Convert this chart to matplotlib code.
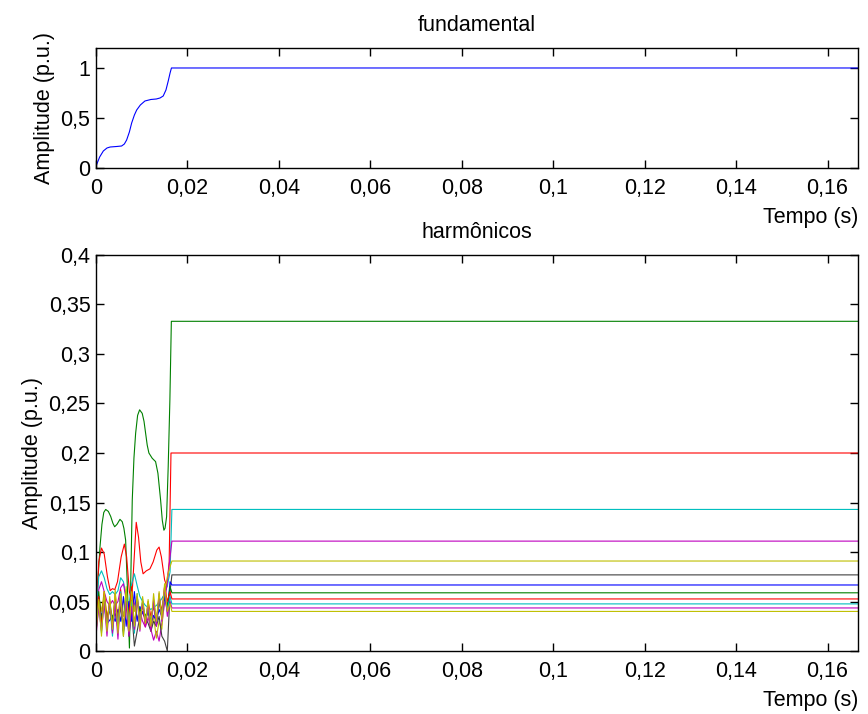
import numpy as np
import matplotlib.pyplot as plt
from matplotlib.ticker import FuncFormatter

# sliding window: end of first cycle and end of record (s)
t_cycle = 0.0166
t_end = 1.0 / 6

# fundamental, transient part
t_fund = [0.0, 0.0001, 0.0008, 0.0016, 0.0024, 0.0031, 0.0045, 0.0056, 0.0062, 0.0067,
          0.0073, 0.0078, 0.0084, 0.0089, 0.0097, 0.0107, 0.0120, 0.0132, 0.0140,
          0.0147, 0.0153, 0.0158, 0.0162, 0.0165]
v_fund = [0.0, 0.03, 0.11, 0.17, 0.20, 0.21, 0.215, 0.22, 0.24, 0.28, 0.36, 0.45, 0.53,
          0.58, 0.63, 0.67, 0.685, 0.69, 0.70, 0.72, 0.78, 0.87, 0.95, 1.0]

# 3rd harmonic (green)
t_h3 = [0.0, 0.0004, 0.00087, 0.0013, 0.0017, 0.00212, 0.0027, 0.00321, 0.0037, 0.00408,
        0.0046, 0.00524, 0.00574, 0.0061, 0.00648, 0.0069, 0.00731, 0.0076, 0.00793,
        0.0083, 0.00867, 0.0091, 0.00954, 0.01011, 0.0105, 0.01085, 0.0112, 0.01157,
        0.01229, 0.01303, 0.01354, 0.01413, 0.0145, 0.01485, 0.0151, 0.01544, 0.01579,
        0.01616, 0.01648]
v_h3 = [0.03, 0.07, 0.105, 0.128, 0.140, 0.143, 0.141, 0.136, 0.129, 0.1255, 0.128, 0.133,
        0.1306, 0.124, 0.112, 0.06, 0.003, 0.07, 0.1525, 0.195, 0.22, 0.238, 0.2436,
        0.240, 0.232, 0.22, 0.208, 0.20, 0.1947, 0.1913, 0.1796, 0.1525, 0.132, 0.122,
        0.124, 0.1356, 0.186, 0.2537, 0.333]

# 5th harmonic (red)
t_h5 = [0.0, 0.0006, 0.0012, 0.0018, 0.0025, 0.0031, 0.0036, 0.0041, 0.0047, 0.0055,
        0.0062, 0.0067, 0.0073, 0.0078, 0.0083, 0.0088, 0.0093, 0.0098, 0.0103, 0.0110,
        0.0118, 0.0125, 0.0133, 0.0138, 0.0143, 0.0150, 0.0155, 0.0160, 0.0164]
v_h5 = [0.03, 0.09, 0.104, 0.098, 0.075, 0.061, 0.063, 0.062, 0.07, 0.095, 0.108, 0.095,
        0.06, 0.05, 0.09, 0.13, 0.115, 0.09, 0.078, 0.081, 0.083, 0.09, 0.102, 0.105,
        0.095, 0.072, 0.065, 0.09, 0.2]

# higher harmonics, transient part on a common time grid
t_grid = [0.0, 0.0006, 0.0012, 0.0018, 0.0024, 0.0030, 0.0036, 0.0042, 0.0048, 0.0054,
          0.0060, 0.0066, 0.0072, 0.0078, 0.0084, 0.0090, 0.0096, 0.0102, 0.0108, 0.0114,
          0.0120, 0.0126, 0.0132, 0.0138, 0.0144, 0.0150, 0.0156, 0.0162]
v_h7 = [0.035, 0.075, 0.081, 0.074, 0.063, 0.057, 0.060, 0.057, 0.061, 0.074, 0.070, 0.055,
        0.045, 0.068, 0.078, 0.066, 0.055, 0.050, 0.046, 0.044, 0.042, 0.044, 0.046, 0.049,
        0.053, 0.058, 0.066, 0.080]
v_h9 = [0.030, 0.062, 0.070, 0.060, 0.050, 0.046, 0.051, 0.046, 0.050, 0.064, 0.068, 0.052,
        0.036, 0.058, 0.048, 0.032, 0.040, 0.030, 0.024, 0.034, 0.022, 0.011, 0.020, 0.010,
        0.028, 0.048, 0.070, 0.095]
v_h11 = [0.025, 0.055, 0.040, 0.060, 0.035, 0.046, 0.030, 0.045, 0.028, 0.052, 0.035, 0.062,
         0.030, 0.065, 0.040, 0.055, 0.034, 0.050, 0.030, 0.040, 0.020, 0.035, 0.013, 0.030,
         0.022, 0.060, 0.075, 0.085]
v_h13 = [0.020, 0.045, 0.030, 0.050, 0.032, 0.040, 0.034, 0.038, 0.025, 0.045, 0.020, 0.050,
         0.015, 0.040, 0.005, 0.020, 0.035, 0.040, 0.033, 0.028, 0.020, 0.030, 0.025, 0.035,
         0.015, 0.010, 0.0, 0.060]
v_h15 = [0.030, 0.050, 0.035, 0.045, 0.028, 0.031, 0.036, 0.030, 0.042, 0.030, 0.055, 0.025,
         0.050, 0.030, 0.060, 0.030, 0.045, 0.038, 0.033, 0.040, 0.028, 0.036, 0.030, 0.042,
         0.035, 0.055, 0.040, 0.070]
v_h17 = [0.025, 0.060, 0.030, 0.055, 0.025, 0.050, 0.030, 0.052, 0.020, 0.058, 0.015, 0.060,
         0.030, 0.055, 0.025, 0.050, 0.040, 0.045, 0.035, 0.042, 0.030, 0.048, 0.028, 0.050,
         0.035, 0.060, 0.045, 0.065]
v_h19 = [0.030, 0.055, 0.025, 0.060, 0.030, 0.050, 0.020, 0.058, 0.030, 0.062, 0.025, 0.045,
         0.035, 0.065, 0.020, 0.055, 0.030, 0.048, 0.025, 0.050, 0.035, 0.045, 0.030, 0.055,
         0.040, 0.065, 0.050, 0.060]
v_h21 = [0.020, 0.050, 0.018, 0.055, 0.022, 0.048, 0.015, 0.050, 0.025, 0.060, 0.020, 0.055,
         0.028, 0.050, 0.018, 0.058, 0.025, 0.052, 0.030, 0.045, 0.025, 0.050, 0.028, 0.055,
         0.035, 0.062, 0.040, 0.055]
v_h23 = [0.015, 0.045, 0.020, 0.050, 0.015, 0.052, 0.018, 0.048, 0.012, 0.055, 0.020, 0.050,
         0.015, 0.045, 0.022, 0.055, 0.020, 0.050, 0.025, 0.048, 0.020, 0.052, 0.025, 0.058,
         0.030, 0.065, 0.035, 0.050]
v_h25 = [0.018, 0.052, 0.015, 0.060, 0.020, 0.055, 0.022, 0.062, 0.018, 0.058, 0.015, 0.065,
         0.020, 0.060, 0.025, 0.058, 0.022, 0.055, 0.028, 0.052, 0.025, 0.058, 0.030, 0.060,
         0.032, 0.068, 0.040, 0.048]

# steady-state amplitudes (3rd .. 25th)
final_h = [0.333, 0.2, 0.143, 0.111, 0.0909, 0.0769, 0.0667, 0.0588, 0.0526, 0.0476,
           0.0435, 0.04]

# old matlab colour order (blue is skipped for the harmonics)
mcolors = [(0, 0, 1), (0, 0.5, 0), (1, 0, 0), (0, 0.75, 0.75), (0.75, 0, 0.75),
           (0.75, 0.75, 0), (0.25, 0.25, 0.25)]

plt.rcParams['font.family'] = ['Liberation Sans', 'DejaVu Sans']
plt.rcParams['font.size'] = 15.5

comma = FuncFormatter(lambda v, p: ('%g' % round(v, 6)).replace('.', ','))


def style(ax):
    ax.tick_params(direction='in', top=True, right=True, length=6, width=1)
    ax.tick_params(axis='x', pad=7)
    ax.tick_params(axis='y', pad=4)
    for s in ax.spines.values():
        s.set_linewidth(1.0)
    ax.xaxis.set_major_formatter(comma)
    ax.yaxis.set_major_formatter(comma)
    ax.set_xlim(0, t_end)
    ax.set_xticks(np.arange(0, 0.17, 0.02))


fig = plt.figure(figsize=(8.68, 7.14), dpi=100)
ax1 = fig.add_axes([0.1106, 0.7647, 0.8779, 0.1681])
ax2 = fig.add_axes([0.1106, 0.0882, 0.8779, 0.5547])

ax1.plot(t_fund + [t_end], v_fund + [1.0], color=mcolors[0], lw=0.8)
style(ax1)
ax1.set_ylim(0, 1.2)
ax1.set_yticks([0, 0.5, 1])
ax1.set_title('fundamental', fontsize=15.5, pad=12.5)
ax1.set_ylabel('Amplitude (p.u.)', labelpad=4)
ax1.set_xlabel('Tempo (s)', loc='right', labelpad=6)

series = [(t_h3, v_h3), (t_h5, v_h5)] + [(t_grid, v) for v in
          [v_h7, v_h9, v_h11, v_h13, v_h15, v_h17, v_h19, v_h21, v_h23, v_h25]]
for i, (tt, vv) in enumerate(series):
    c = mcolors[(i + 1) % len(mcolors)]
    ax2.plot(list(tt) + [t_cycle, t_end], list(vv) + [final_h[i], final_h[i]], color=c, lw=0.8)

style(ax2)
ax2.set_ylim(0, 0.4)
ax2.set_yticks(np.arange(0, 0.401, 0.05))
ax2.set_title('harmônicos', fontsize=15.5, pad=12.5)
ax2.set_ylabel('Amplitude (p.u.)', labelpad=4)
ax2.set_xlabel('Tempo (s)', loc='right', labelpad=6)

plt.savefig('out.png', dpi=100)
